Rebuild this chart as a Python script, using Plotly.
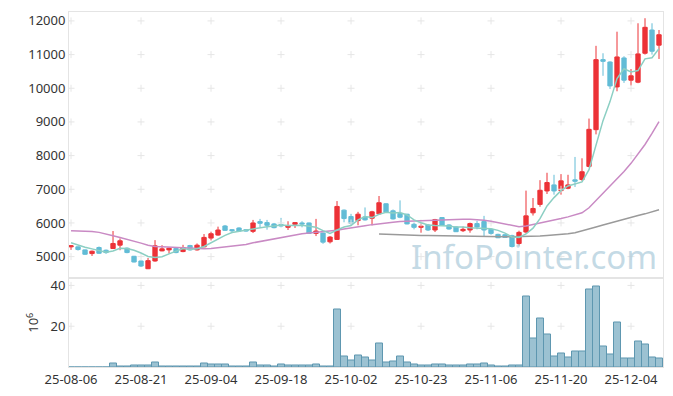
import plotly.graph_objects as go
from plotly.subplots import make_subplots

dates = [
    "25-08-06", "25-08-07", "25-08-08", "25-08-11", "25-08-12", "25-08-13", "25-08-14", "25-08-18",
    "25-08-19", "25-08-20", "25-08-21", "25-08-22", "25-08-25", "25-08-26", "25-08-27", "25-08-28",
    "25-08-29", "25-09-01", "25-09-02", "25-09-03", "25-09-04", "25-09-05", "25-09-08", "25-09-09",
    "25-09-10", "25-09-11", "25-09-12", "25-09-15", "25-09-16", "25-09-17", "25-09-18", "25-09-19",
    "25-09-22", "25-09-23", "25-09-24", "25-09-25", "25-09-26", "25-09-29", "25-09-30", "25-10-01",
    "25-10-02", "25-10-10", "25-10-13", "25-10-14", "25-10-15", "25-10-16", "25-10-17", "25-10-20",
    "25-10-21", "25-10-22", "25-10-23", "25-10-24", "25-10-27", "25-10-28", "25-10-29", "25-10-30",
    "25-10-31", "25-11-03", "25-11-04", "25-11-05", "25-11-06", "25-11-07", "25-11-10", "25-11-11",
    "25-11-12", "25-11-13", "25-11-14", "25-11-17", "25-11-18", "25-11-19", "25-11-20", "25-11-21",
    "25-11-24", "25-11-25", "25-11-26", "25-11-27", "25-11-28", "25-12-01", "25-12-02", "25-12-03",
    "25-12-04", "25-12-05", "25-12-08", "25-12-09", "25-12-10",
]

open_ = [5290, 5290, 5200, 5090, 5270, 5190, 5240, 5340, 5250, 5010,
         4870, 4640, 4870, 5170, 5200, 5240, 5150, 5330, 5200, 5290,
         5550, 5640, 5910, 5800, 5850, 5800, 5750, 6040, 6010, 5970,
         5950, 5870, 5960, 6000, 6000, 5690, 5700, 5440, 5510, 6380,
         6190, 6070, 6180, 6140, 6270, 6570, 6360, 6280, 6260, 5960,
         5870, 5940, 5790, 6160, 5940, 5880, 5770, 5790, 5980, 6040,
         5810, 5660, 5650, 5620, 5390, 5730, 6300, 6550, 6950, 7130,
         6960, 7030, 7280, 7290, 7680, 8770, 10850, 10780, 10040, 10900,
         10240, 10180, 11040, 11730, 11280]
high = [5340, 5300, 5210, 5180, 5300, 5210, 5760, 5540, 5270, 5020,
        4880, 4960, 5490, 5340, 5270, 5250, 5350, 5350, 5390, 5670,
        5740, 5890, 5940, 5820, 5870, 5810, 6090, 6120, 6090, 6000,
        6150, 6050, 6020, 6050, 6010, 6120, 5710, 5610, 6650, 6400,
        6270, 6330, 6460, 6360, 6800, 6580, 6400, 6670, 6270, 6010,
        6000, 5970, 6120, 6170, 5960, 5900, 5890, 6010, 6060, 6210,
        5830, 5680, 5660, 5650, 5770, 6960, 6740, 7270, 7490, 7430,
        7450, 7430, 7960, 7920, 9100, 11260, 11040, 10800, 11680, 10950,
        10570, 11930, 12080, 11930, 11730]
low = [5200, 5180, 5050, 5020, 5080, 5080, 5230, 5190, 5100, 4830,
       4690, 4630, 4850, 5160, 5090, 5100, 5130, 5180, 5180, 5280,
       5480, 5620, 5760, 5700, 5730, 5740, 5700, 5870, 5800, 5840,
       5870, 5790, 5850, 5870, 5680, 5610, 5380, 5390, 5500, 6020,
       5920, 5930, 6070, 5930, 6240, 6300, 6100, 6140, 5960, 5810,
       5710, 5760, 5730, 5920, 5800, 5730, 5730, 5710, 5810, 5610,
       5650, 5550, 5560, 5270, 5330, 5690, 6220, 6480, 6860, 6840,
       6840, 7000, 7070, 7250, 7650, 8630, 10370, 9980, 9910, 10160,
       10080, 10150, 11000, 11000, 10870]
close = [5320, 5210, 5070, 5160, 5100, 5120, 5390, 5470, 5120, 4840,
         4720, 4880, 5320, 5230, 5250, 5120, 5270, 5200, 5340, 5570,
         5680, 5790, 5780, 5770, 5760, 5760, 6000, 5990, 5930, 5860,
         5910, 5920, 6010, 5970, 5690, 5760, 5430, 5580, 6490, 6130,
         5990, 6260, 6090, 6330, 6600, 6320, 6120, 6170, 5970, 5870,
         5900, 5790, 6100, 5930, 5820, 5740, 5810, 5980, 5880, 5790,
         5690, 5560, 5570, 5300, 5720, 6210, 6430, 6970, 7200, 6950,
         7250, 7130, 7240, 7520, 8780, 10850, 10800, 10070, 10930, 10240,
         10370, 11020, 11810, 11100, 11590]

ma5 = [5410, 5340, 5280, 5230, 5172, 5132, 5168, 5248, 5240, 5188,
       5108, 5006, 4976, 4998, 5080, 5160, 5238, 5214, 5236, 5300,
       5412, 5516, 5632, 5718, 5756, 5772, 5814, 5856, 5888, 5908,
       5938, 5922, 5926, 5934, 5900, 5870, 5772, 5686, 5790, 5878,
       5924, 6090, 6192, 6160, 6254, 6320, 6292, 6308, 6236, 6090,
       6006, 5940, 5926, 5918, 5908, 5876, 5880, 5856, 5846, 5840,
       5830, 5780, 5698, 5582, 5568, 5672, 5846, 6126, 6506, 6752,
       6960, 7100, 7154, 7218, 7584, 8304, 9038, 9604, 10286, 10578,
       10482, 10526, 10874, 10908, 11178]
ma20 = [5770, 5765, 5755, 5745, 5720, 5680, 5620, 5570, 5520, 5460,
        5400, 5340, 5300, 5290, 5280, 5270, 5260, 5245, 5235, 5230,
        5240, 5260, 5280, 5300, 5330, 5360, 5410, 5450, 5490, 5540,
        5580, 5620, 5650, 5680, 5700, 5720, 5730, 5740, 5780, 5820,
        5860, 5890, 5920, 5950, 5980, 6000, 6020, 6040, 6050, 6060,
        6070, 6080, 6090, 6090, 6100, 6100, 6110, 6110, 6100, 6080,
        6050, 6010, 5960, 5910, 5890, 5910, 5950, 5990, 6040, 6090,
        6130, 6180, 6230, 6300, 6450, 6660, 6870, 7090, 7300, 7530,
        7770, 8040, 8330, 8660, 9010]
ma60 = [None] * 44 + [
        5670, 5660, 5650, 5645, 5640, 5635, 5630, 5625, 5620, 5615,
        5610, 5605, 5600, 5600, 5595, 5595, 5590, 5590, 5590, 5590,
        5590, 5595, 5600, 5610, 5625, 5640, 5660, 5680, 5710, 5760,
        5820, 5880, 5940, 6000, 6060, 6110, 6170, 6220, 6270, 6330,
        6390]

volume = [0, 0, 0, 0, 0, 0, 1.7, 0.4, 0.4, 0.7,
          0.7, 0.7, 2.2, 0.4, 0.4, 0.4, 0.4, 0.4, 0.4, 1.7,
          1.1, 1.1, 1.1, 0.3, 0.3, 0.3, 2.2, 0.7, 0.7, 0.3,
          1.1, 0.7, 0.7, 0.7, 0.7, 1.1, 0.4, 0.3, 28.0, 5.1,
          3.3, 5.5, 4.5, 3.2, 11.5, 2.0, 2.5, 5.0, 2.0, 1.1,
          0.6, 0.6, 1.0, 1.0, 0.6, 0.6, 0.6, 1.0, 1.0, 1.6,
          0.6, 0.2, 0.2, 0.6, 0.6, 34.5, 13.8, 23.6, 15.9, 5.0,
          6.5, 4.6, 7.5, 7.5, 38.2, 39.3, 9.9, 6.0, 21.6, 4.1,
          4.1, 12.4, 10.9, 4.6, 4.1]

price_ticks = [5000, 6000, 7000, 8000, 9000, 10000, 11000, 12000]
vol_ticks = [20, 40]
tick_step = 10

idx = list(range(len(dates)))
x_tickvals = idx[::tick_step]
x_ticktext = dates[::tick_step]

fig = make_subplots(rows=2, cols=1, shared_xaxes=True, vertical_spacing=0,
                    row_heights=[0.7507, 0.2493])

# grid crosses at tick intersections
cross = dict(symbol="cross-thin", size=5, line=dict(color="#e6e6e6", width=1))
gx = [d for d in x_tickvals for _ in price_ticks]
gy = [p for _ in x_tickvals for p in price_ticks]
fig.add_trace(go.Scatter(x=gx, y=gy, mode="markers", hoverinfo="skip", marker=cross),
              row=1, col=1)
vx = [d for d in x_tickvals for _ in vol_ticks]
vy = [v for _ in x_tickvals for v in vol_ticks]
fig.add_trace(go.Scatter(x=vx, y=vy, mode="markers", hoverinfo="skip", marker=cross),
              row=2, col=1)

fig.add_trace(go.Scatter(x=idx, y=ma60, mode="lines",
                         line=dict(color="#9a9a9a", width=1.5)), row=1, col=1)
fig.add_trace(go.Scatter(x=idx, y=ma20, mode="lines",
                         line=dict(color="#c98ac4", width=1.5)), row=1, col=1)
fig.add_trace(go.Scatter(x=idx, y=ma5, mode="lines",
                         line=dict(color="#8ccfc3", width=1.5)), row=1, col=1)

fig.add_trace(go.Candlestick(
    x=idx, open=open_, high=high, low=low, close=close,
    increasing=dict(line=dict(color="#ec3237", width=1), fillcolor="#ec3237"),
    decreasing=dict(line=dict(color="#62bcd6", width=1), fillcolor="#62bcd6"),
    whiskerwidth=0), row=1, col=1)

fig.add_trace(go.Bar(x=idx, y=volume, marker=dict(color="#9cc2d2",
                                                  line=dict(color="#5e97b0", width=1)),
                     width=1.0), row=2, col=1)

axis_line = dict(showline=True, linecolor="#e4e4e4", linewidth=1, mirror=True,
                 showgrid=False, zeroline=False)
fig.update_xaxes(range=[-0.29, 84.57], tickvals=x_tickvals, ticktext=x_ticktext,
                 ticks="", rangeslider_visible=False, **axis_line)
fig.update_xaxes(showticklabels=False, row=1, col=1)
fig.update_xaxes(showticklabels=True, row=2, col=1, tickangle=0,
                 tickfont=dict(family="Noto Sans", size=13, color="#333"))
fig.update_yaxes(range=[4350, 12265], tickvals=price_ticks, ticks="", tickformat="d",
                 tickfont=dict(family="Noto Sans", size=13, color="#333"),
                 row=1, col=1, **axis_line)
fig.update_yaxes(range=[0, 43.4], tickvals=vol_ticks, ticks="",
                 tickfont=dict(family="Noto Sans", size=13, color="#333"),
                 title=dict(text="10<sup>6</sup>", font=dict(family="Noto Sans", size=13, color="#333"),
                            standoff=8),
                 row=2, col=1, **axis_line)

fig.add_annotation(text="InfoPointer.com", xref="paper", yref="paper",
                   x=0.993, y=0.243, xanchor="right", yanchor="bottom",
                   showarrow=False,
                   font=dict(family="Noto Sans", size=33, color="rgba(170,202,218,0.7)"))

# page body has an 8px margin; offset plot margins to land the plot area in place
fig.update_layout(width=673, height=396, margin=dict(l=61, r=18, t=2, b=37),
                  paper_bgcolor="white", plot_bgcolor="white", showlegend=False,
                  bargap=0, boxgap=0.12)

fig.write_html("out.html")
